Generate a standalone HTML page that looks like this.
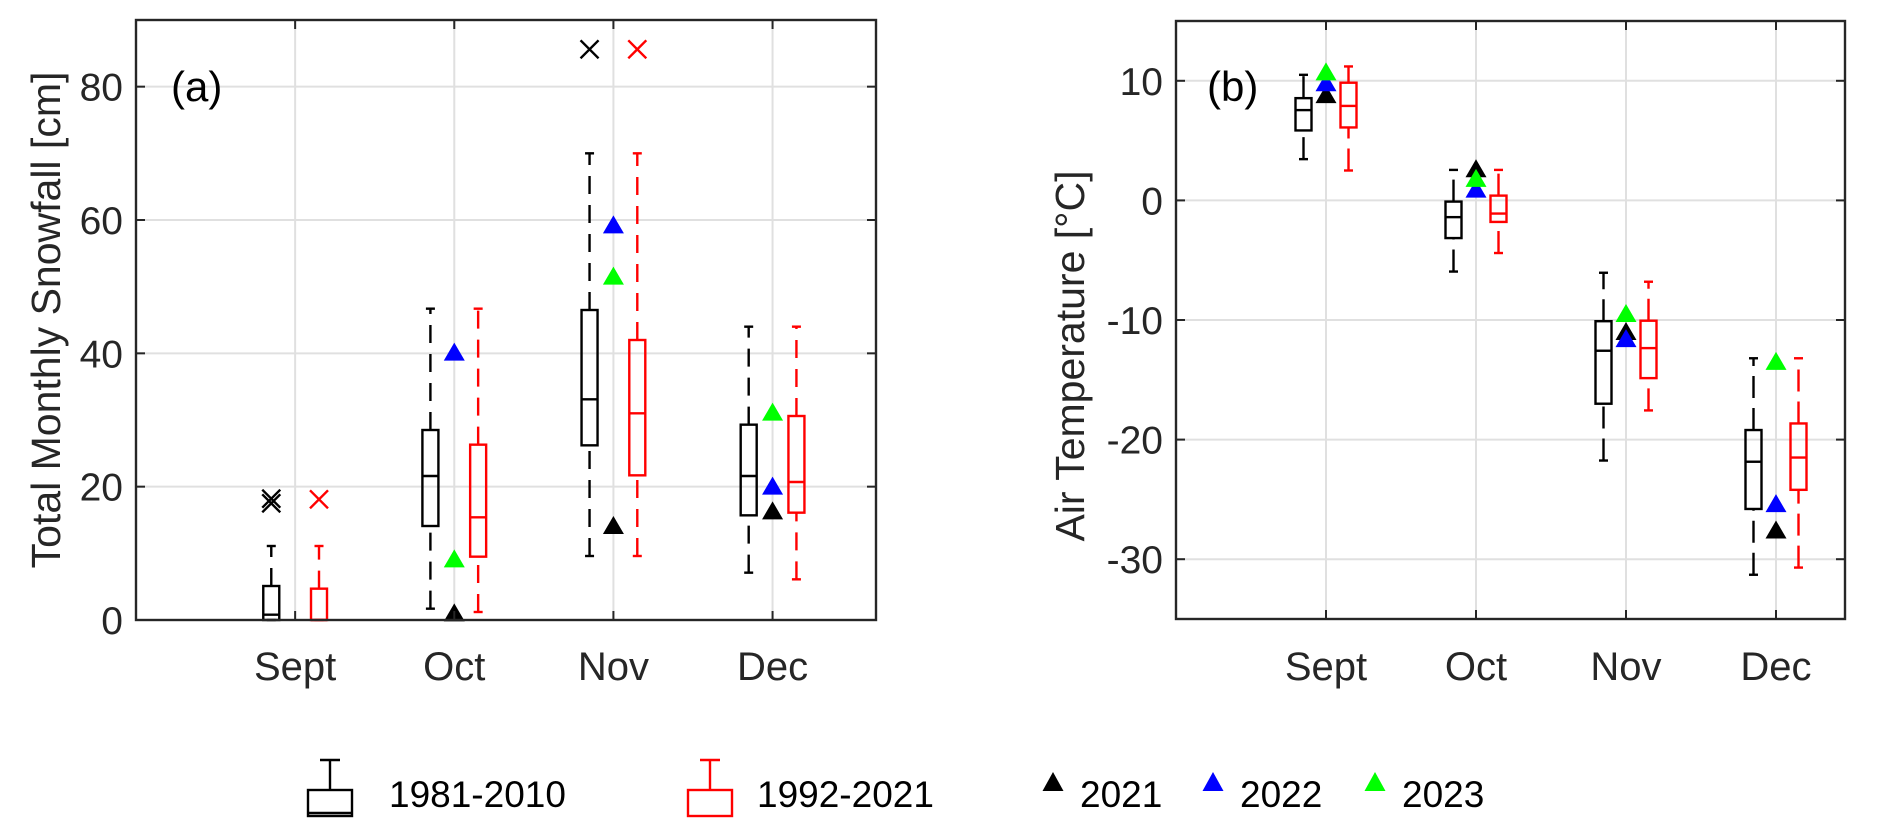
<!DOCTYPE html>
<html><head><meta charset="utf-8"><style>
html,body{margin:0;padding:0;background:#fff;}
svg{display:block;font-family:"Liberation Sans",Arial,sans-serif;}
</style></head><body>
<svg id="chart" width="1892" height="839" viewBox="0 0 1892 839" xmlns="http://www.w3.org/2000/svg"></svg>
<script>
// ---- data ----
const months = ["Sept","Oct","Nov","Dec"];
// Panel (a) snowfall: [low, q1, median, q3, high]
const snowA = [[0,0,0.8,5.1,11.1],[1.7,14.1,21.6,28.5,46.7],[9.6,26.2,33.1,46.5,70],[7.1,15.7,21.6,29.3,44]];
const snowB = [[0,0,0,4.7,11.1],[1.2,9.5,15.4,26.3,46.7],[9.6,21.7,31,42,70],[6.1,16.1,20.7,30.6,44]];
const snowOutA = [[1,17.5],[1,18.2],[3,85.6]];
const snowOutB = [[1,18.1],[3,85.6]];
const snow2021 = [null,1.0,14.1,16.3];
const snow2022 = [null,40.1,59.2,20.0];
const snow2023 = [null,9.1,51.5,31.1];
const snowTicks = [0,20,40,60,80];
// Panel (b) temperature
const tempA = [[3.45,5.85,7.55,8.55,10.5],[-5.95,-3.15,-1.4,-0.1,2.55],[-21.75,-17.0,-12.57,-10.1,-6.05],[-31.3,-25.8,-21.85,-19.2,-13.2]];
const tempB = [[2.5,6.1,7.9,9.84,11.2],[-4.4,-1.8,-1.1,0.4,2.55],[-17.56,-14.86,-12.35,-10.06,-6.8],[-30.7,-24.2,-21.5,-18.65,-13.2]];
const temp2021 = [8.8,2.6,-11.0,-27.6];
const temp2022 = [9.8,0.9,-11.6,-25.4];
const temp2023 = [10.7,1.8,-9.5,-13.5];
const tempTicks = [-30,-20,-10,0,10];

const NS="http://www.w3.org/2000/svg";
const svg=document.getElementById('chart');
function el(tag,attrs,parent){const e=document.createElementNS(NS,tag);for(const k in attrs)e.setAttribute(k,attrs[k]);(parent||svg).appendChild(e);return e;}

function panel(cfg){
  const g=el('g',{});
  
  
  const L=cfg.left,R=cfg.right,T=cfg.top,B=cfg.bottom;
  const xs=c=>L+(c-cfg.xmin)/(cfg.xmax-cfg.xmin)*(R-L);
  const ys=v=>B-(v-cfg.ymin)/(cfg.ymax-cfg.ymin)*(B-T);
  cfg.ticks.forEach(t=>{
    const gl=el('line',{x1:L,x2:R,y1:ys(t),y2:ys(t),stroke:'#e0e0e0','stroke-width':2},g);
    
    
  });
  months.forEach((m,i)=>{
    const gl=el('line',{x1:xs(i+1),x2:xs(i+1),y1:T,y2:B,stroke:'#e0e0e0','stroke-width':2},g);
    
    
  });
  function drawBox(stats,off,color,nm){
    stats.forEach((s,i)=>{
      const cx=xs(i+1+off),hw=8,cw=4.5;
      const bg=el('g',{stroke:color,'stroke-width':2.4,fill:'none'},g);
      
      
      el('line',{x1:cx,x2:cx,y1:ys(s[3]),y2:ys(s[4]),'stroke-dasharray':cfg.dash},bg);
      el('line',{x1:cx,x2:cx,y1:ys(s[0]),y2:ys(s[1]),'stroke-dasharray':cfg.dash},bg);
      el('line',{x1:cx-cw,x2:cx+cw,y1:ys(s[4]),y2:ys(s[4])},bg);
      el('line',{x1:cx-cw,x2:cx+cw,y1:ys(s[0]),y2:ys(s[0])},bg);
      el('rect',{x:cx-hw,y:ys(s[3]),width:2*hw,height:Math.max(0.5,ys(s[1])-ys(s[3]))},bg);
      el('line',{x1:cx-hw,x2:cx+hw,y1:ys(s[2]),y2:ys(s[2])},bg);
    });
  }
  drawBox(cfg.boxA,-0.15,'#000','box-1981-2010');
  drawBox(cfg.boxB,0.15,'#f00','box-1992-2021');
  function outl(list,off,color){
    (list||[]).forEach(o=>{
      const cx=xs(o[0]+off),cy=ys(o[1]),r=9;
      const og=el('g',{stroke:color,'stroke-width':2.4},g);
      
      
      el('line',{x1:cx-r,y1:cy-r,x2:cx+r,y2:cy+r},og);
      el('line',{x1:cx-r,y1:cy+r,x2:cx+r,y2:cy-r},og);
    });
  }
  outl(cfg.outA,-0.15,'#000');
  outl(cfg.outB,0.15,'#f00');
  function tri(vals,color,nm){
    vals.forEach((v,i)=>{
      if(v===null)return;
      const cx=xs(i+1),cy=ys(v);
      const p=el('polygon',{points:`${cx-10.5},${cy+8} ${cx+10.5},${cy+8} ${cx},${cy-10}`,fill:color},g);
      
      
    });
  }
  tri(cfg.y21,'#000','y2021');
  tri(cfg.y22,'#00f','y2022');
  tri(cfg.y23,'#0f0','y2023');
  const fr=el('rect',{x:L,y:T,width:R-L,height:B-T,fill:'none',stroke:'#262626','stroke-width':2.4},g);
  
  
  cfg.ticks.forEach(t=>{
    el('line',{x1:L,x2:L+9,y1:ys(t),y2:ys(t),stroke:'#262626','stroke-width':2},g);
    el('line',{x1:R,x2:R-9,y1:ys(t),y2:ys(t),stroke:'#262626','stroke-width':2},g);
    const tx=el('text',{x:L-13,y:ys(t)+14,'text-anchor':'end','font-size':39,fill:'#262626'},g);
    tx.textContent=String(t);
    
    
  });
  months.forEach((m,i)=>{
    el('line',{x1:xs(i+1),x2:xs(i+1),y1:B,y2:B-9,stroke:'#262626','stroke-width':2},g);
    el('line',{x1:xs(i+1),x2:xs(i+1),y1:T,y2:T+9,stroke:'#262626','stroke-width':2},g);
    const tx=el('text',{x:xs(i+1),y:680,'text-anchor':'middle','font-size':40,fill:'#262626'},g);
    tx.textContent=m;
    
    
  });
  const yl=el('text',{x:0,y:0,transform:`translate(${cfg.ylabX},${cfg.ylabY}) rotate(-90)`,'text-anchor':'middle','font-size':41,fill:'#262626'},g);
  yl.textContent=cfg.ylabel;
  
  
  const pl=el('text',{x:cfg.tagX,y:101,'font-size':42,fill:'#000'},g);
  pl.textContent=cfg.tag;
  
  
}

panel({name:'snowfall-panel',left:136,right:876,top:20,bottom:620,xmin:0,xmax:4.65,ymin:0,ymax:90,ticks:snowTicks,
  boxA:snowA,boxB:snowB,outA:snowOutA,outB:snowOutB,y21:snow2021,y22:snow2022,y23:snow2023,dash:'18 11',
  ylabel:'Total Monthly Snowfall [cm]',ylabX:60,ylabY:320,tag:'(a)',tagX:171});
panel({name:'temperature-panel',left:1176,right:1845,top:21,bottom:619,xmin:0,xmax:4.46,ymin:-35,ymax:15,ticks:tempTicks,
  boxA:tempA,boxB:tempB,outA:[],outB:[],y21:temp2021,y22:temp2022,y23:temp2023,dash:'22 10',
  ylabel:'Air Temperature [°C]',ylabX:1084,ylabY:356,tag:'(b)',tagX:1207});

// ---- legend ----
const lg=el('g',{});


function legBox(x,color,label,tOff){
  const g=el('g',{stroke:color,'stroke-width':2.4,fill:'none'},lg);
  
  
  el('line',{x1:x+12,x2:x+32,y1:760,y2:760},g);
  el('line',{x1:x+22,x2:x+22,y1:760,y2:790},g);
  el('rect',{x:x,y:790,width:44,height:26},g);
  if(color==='#000'){el('line',{x1:x,x2:x+44,y1:813,y2:813},g);}
  const t=el('text',{x:x+tOff,y:807,'font-size':37,fill:'#000',stroke:'none'},g);
  t.textContent=label;
}
legBox(308,'#000','1981-2010',81);
legBox(688,'#f00','1992-2021',69);
function legTri(x,color,label){
  const g=el('g',{},lg);
  
  
  el('polygon',{points:`${x-10.5},${791} ${x+10.5},${791} ${x},${772}`,fill:color},g);
  const t=el('text',{x:x+27,y:807,'font-size':37,fill:'#000'},g);
  t.textContent=label;
}
legTri(1053,'#000','2021');
legTri(1213,'#00f','2022');
legTri(1375,'#0f0','2023');
</script>
</body></html>
